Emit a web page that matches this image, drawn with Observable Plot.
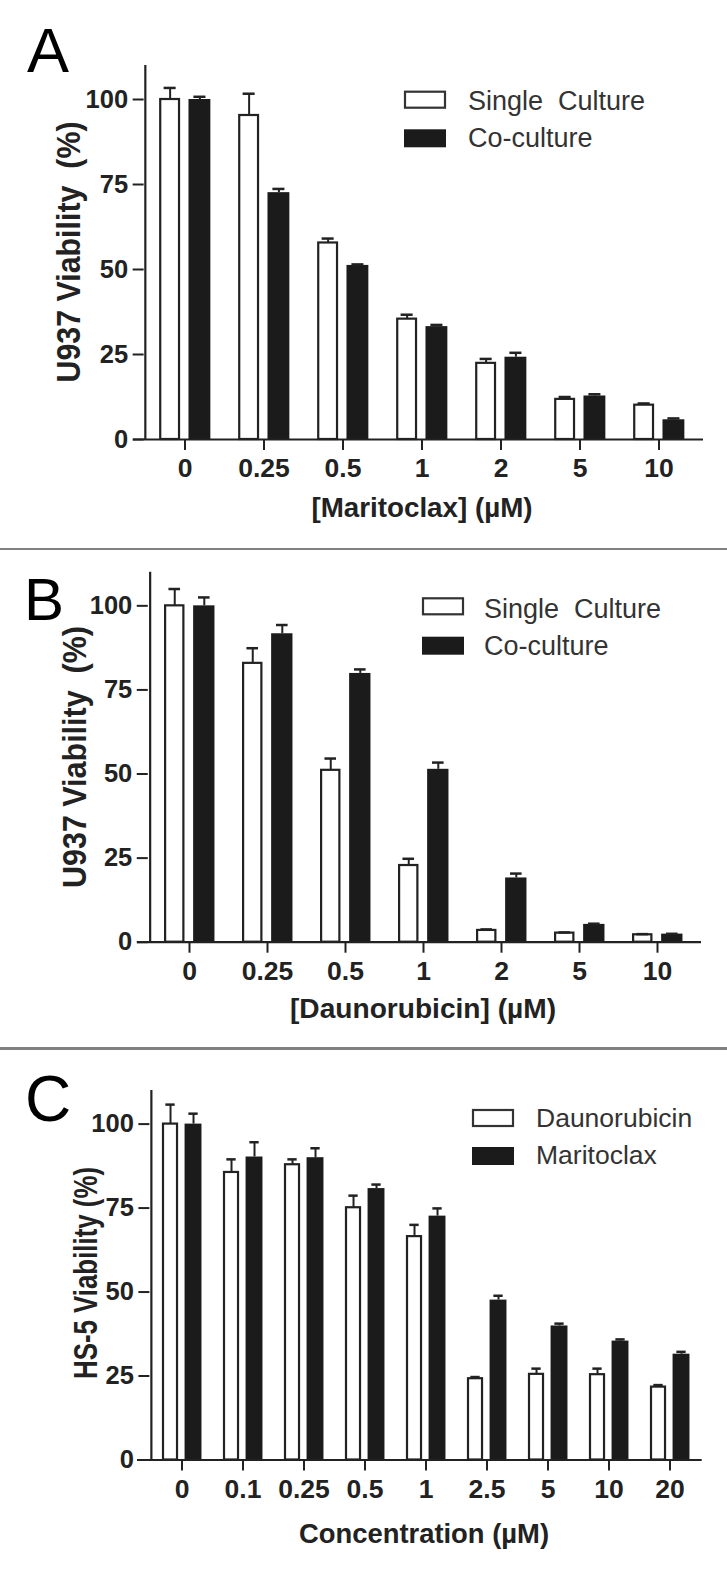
<!DOCTYPE html>
<html>
<head>
<meta charset="utf-8">
<script src="https://cdn.jsdelivr.net/npm/d3@7"></script>
<script src="https://cdn.jsdelivr.net/npm/@observablehq/plot@0.6"></script>
<style>
html, body { margin: 0; padding: 0; background: #fff; }
#page { position: relative; width: 727px; height: 1574px; overflow: hidden; font-family: "Liberation Sans", Arial, sans-serif; }
.panel { position: absolute; left: 0; }
.sep { position: absolute; left: 0; width: 727px; background: #808080; }
#overlay { position: absolute; left: 0; top: 0; pointer-events: none; }
g[aria-label$="tick label"] text { font-weight: bold; }
</style>
</head>
<body>
<div id="page"></div>
<script>
// ---------- data ----------
const concA = ["0", "0.25", "0.5", "1", "2", "5", "10"];
const maritoclaxSingle    = [100, 95.3, 57.8, 35.4, 22.4, 11.8, 10.1];
const maritoclaxSingleErr = [3.4, 6.4, 1.3, 1.3, 1.3, 0.7, 0.5];
const maritoclaxCo        = [100, 72.6, 51.2, 33.2, 24.2, 12.8, 5.8];
const maritoclaxCoErr     = [0.8, 1.1, 0.3, 0.5, 1.3, 0.5, 0.4];

const concB = ["0", "0.25", "0.5", "1", "2", "5", "10"];
const daunoSingle    = [100, 82.9, 51.1, 22.8, 3.5, 2.7, 2.2];
const daunoSingleErr = [5.0, 4.5, 3.5, 2.0, 0.3, 0.2, 0.2];
const daunoCo        = [100, 91.7, 79.9, 51.4, 19.1, 5.3, 2.4];
const daunoCoErr     = [2.5, 2.6, 1.2, 2.0, 1.3, 0.2, 0.1];

const concC = ["0", "0.1", "0.25", "0.5", "1", "2.5", "5", "10", "20"];
const hs5Dauno    = [100, 85.6, 87.9, 75.1, 66.5, 24.2, 25.5, 25.4, 21.7];
const hs5DaunoErr = [5.8, 3.9, 1.6, 3.6, 3.5, 0.5, 1.7, 1.8, 0.6];
const hs5Marito    = [100, 90.2, 90.0, 80.8, 72.6, 47.6, 39.9, 35.4, 31.5];
const hs5MaritoErr = [3.1, 4.4, 2.8, 1.2, 2.3, 1.3, 0.7, 0.5, 0.7];

const yTicks = [0, 25, 50, 75, 100];
const yMax = 110;

// ---------- helpers ----------
const FONT = '"Liberation Sans", Arial, sans-serif';
const INK = "#222";
const W = 727;

function makePanel(cfg) {
  const {cats, s1, e1, s2, e2, top, height, yZero, yTop, tick0, tickLast, axisStart, axisEnd} = cfg;
  const n = cats.length;
  const step = (tickLast - tick0) / (n - 1);
  const half = step / 2;
  const ml = tick0 - half;
  const mr = W - (tickLast + half);
  const mt = yTop - top;
  const mb = top + height - yZero;
  const open = cats.map((c, i) => ({c, v: s1[i], e: e1[i]}));
  const solid = cats.map((c, i) => ({c, v: s2[i], e: e2[i]}));
  const wOut = [-0.322, -0.053], bOut = [0.048, 0.328];
  const sw = 2.2;
  const wInL = half + wOut[0] * step + sw / 2, wInR = half - wOut[1] * step + sw / 2;
  const bInL = half + bOut[0] * step, bInR = half - bOut[1] * step;
  const cw = (wOut[0] + wOut[1]) / 2 * step, cb = (bOut[0] + bOut[1]) / 2 * step;
  const hw = 0.078 * step;
  const plot = Plot.plot({
    width: W, height,
    marginTop: mt, marginBottom: mb, marginLeft: ml, marginRight: mr,
    x: {type: "band", domain: cats, padding: 0, label: null},
    y: {domain: [0, yMax], label: null},
    style: {fontFamily: FONT, color: INK, background: "transparent", overflow: "visible"},
    marks: [
      Plot.barY(open, {x: "c", y: "v", fill: "white", stroke: INK, strokeWidth: sw, insetLeft: wInL, insetRight: wInR}),
      Plot.barY(solid, {x: "c", y: "v", fill: "#1b1b1b", insetLeft: bInL, insetRight: bInR}),
      Plot.ruleX(open, {x: "c", y1: "v", y2: d => d.v + d.e, dx: cw, stroke: INK, strokeWidth: 2}),
      Plot.tickY(open, {x: "c", y: d => d.v + d.e, insetLeft: half + cw - hw, insetRight: half - cw - hw, stroke: INK, strokeWidth: 2.5}),
      Plot.ruleX(solid, {x: "c", y1: "v", y2: d => d.v + d.e, dx: cb, stroke: INK, strokeWidth: 2}),
      Plot.tickY(solid, {x: "c", y: d => d.v + d.e, insetLeft: half + cb - hw, insetRight: half - cb - hw, stroke: INK, strokeWidth: 2.5}),
      Plot.ruleX([cats[0]], {x: d => d, y1: 0, y2: yMax, dx: -half, stroke: INK, strokeWidth: 2.2}),
      Plot.ruleY([0], {insetLeft: -(ml - axisStart), insetRight: -(axisEnd - (W - mr)), stroke: INK, strokeWidth: 2.2}),
      Plot.axisY({ticks: yTicks, tickSize: 11, tickPadding: 5, fontSize: 25.5, fontWeight: "bold", label: null, stroke: INK, strokeWidth: 2, fill: INK}),
      Plot.axisX({tickSize: 11, tickPadding: 8, fontSize: 26.5, fontWeight: "bold", label: null, stroke: INK, strokeWidth: 2, fill: INK})
    ]
  });
  plot.classList.add("panel");
  plot.style.top = top + "px";
  plot.style.position = "absolute";
  return plot;
}

const page = document.getElementById("page");

page.appendChild(makePanel({cats: concA, s1: maritoclaxSingle, e1: maritoclaxSingleErr, s2: maritoclaxCo, e2: maritoclaxCoErr,
  top: 0, height: 547, yZero: 439, yTop: 65, tick0: 183.3, tickLast: 659.3, axisStart: 133, axisEnd: 703}));
page.appendChild(makePanel({cats: concB, s1: daunoSingle, e1: daunoSingleErr, s2: daunoCo, e2: daunoCoErr,
  top: 550, height: 497, yZero: 941.7, yTop: 571.7, tick0: 187.1, tickLast: 659.3, axisStart: 137, axisEnd: 701}));
page.appendChild(makePanel({cats: concC, s1: hs5Dauno, e1: hs5DaunoErr, s2: hs5Marito, e2: hs5MaritoErr,
  top: 1050, height: 524, yZero: 1459.5, yTop: 1090, tick0: 180, tickLast: 670, axisStart: 137, axisEnd: 701.7}));

for (const [t, h] of [[547.5, 2.5], [1047.3, 2.7]]) {
  const s = document.createElement("div");
  s.className = "sep";
  s.style.top = t + "px";
  s.style.height = h + "px";
  page.appendChild(s);
}

// ---------- overlay text: panel letters, titles, legends ----------
const svg = d3.select(page).append("svg").attr("id", "overlay").attr("width", W).attr("height", 1574)
  .style("font-family", FONT);

const letters = [["A", 27, 72, 63], ["B", 24, 620, 60], ["C", 25, 1121, 64]];
for (const [t, x, y, s] of letters)
  svg.append("text").attr("x", x).attr("y", y).attr("font-size", s).attr("fill", "#000").text(t);

const yTitles = [
  ["U937 Viability\u00a0\u00a0(%)", 80, 252, 34, 261],
  ["U937 Viability\u00a0\u00a0(%)", 86, 757, 34, 262],
  ["HS-5 Viability (%)", 97, 1273, 33, 212]
];
for (const [t, x, y, s, len] of yTitles)
  svg.append("text").attr("transform", `translate(${x},${y}) rotate(-90)`).attr("text-anchor", "middle")
    .attr("font-size", s).attr("font-weight", "bold").attr("fill", INK)
    .attr("textLength", len).attr("lengthAdjust", "spacingAndGlyphs").text(t);

const xTitles = [
  ["[Maritoclax] (\u00b5M)", 422, 517, 28.5, 221],
  ["[Daunorubicin] (\u00b5M)", 423, 1018, 28.5, 266],
  ["Concentration (\u00b5M)", 424, 1543, 28.5, 250]
];
for (const [t, x, y, s, len] of xTitles)
  svg.append("text").attr("x", x).attr("y", y).attr("text-anchor", "middle")
    .attr("font-size", s).attr("font-weight", "bold").attr("fill", INK)
    .attr("textLength", len).attr("lengthAdjust", "spacingAndGlyphs").text(t);

const legendA = ["Single\u00a0\u00a0Culture", "Co-culture"];
const legendB = ["Single\u00a0\u00a0Culture", "Co-culture"];
const legendC = ["Daunorubicin", "Maritoclax"];
const legends = [
  [legendA, 404, 90.7, 129.3, 468, 110, 147, 27],
  [legendB, 422, 597.3, 636.7, 484, 617.5, 655, 27],
  [legendC, 472, 1109, 1147, 536, 1127, 1164, 26.5]
];
for (const [names, bx, y1, y2, tx, b1, b2, fs] of legends) {
  svg.append("rect").attr("x", bx + 1).attr("y", y1 + 1).attr("width", 40).attr("height", 16)
    .attr("fill", "white").attr("stroke", "#333").attr("stroke-width", 2.2);
  svg.append("rect").attr("x", bx).attr("y", y2).attr("width", 42).attr("height", 18).attr("fill", "#1b1b1b");
  svg.append("text").attr("x", tx).attr("y", b1).attr("font-size", fs).attr("fill", "#333").text(names[0]);
  svg.append("text").attr("x", tx).attr("y", b2).attr("font-size", fs).attr("fill", "#333").text(names[1]);
}
</script>
</body>
</html>
